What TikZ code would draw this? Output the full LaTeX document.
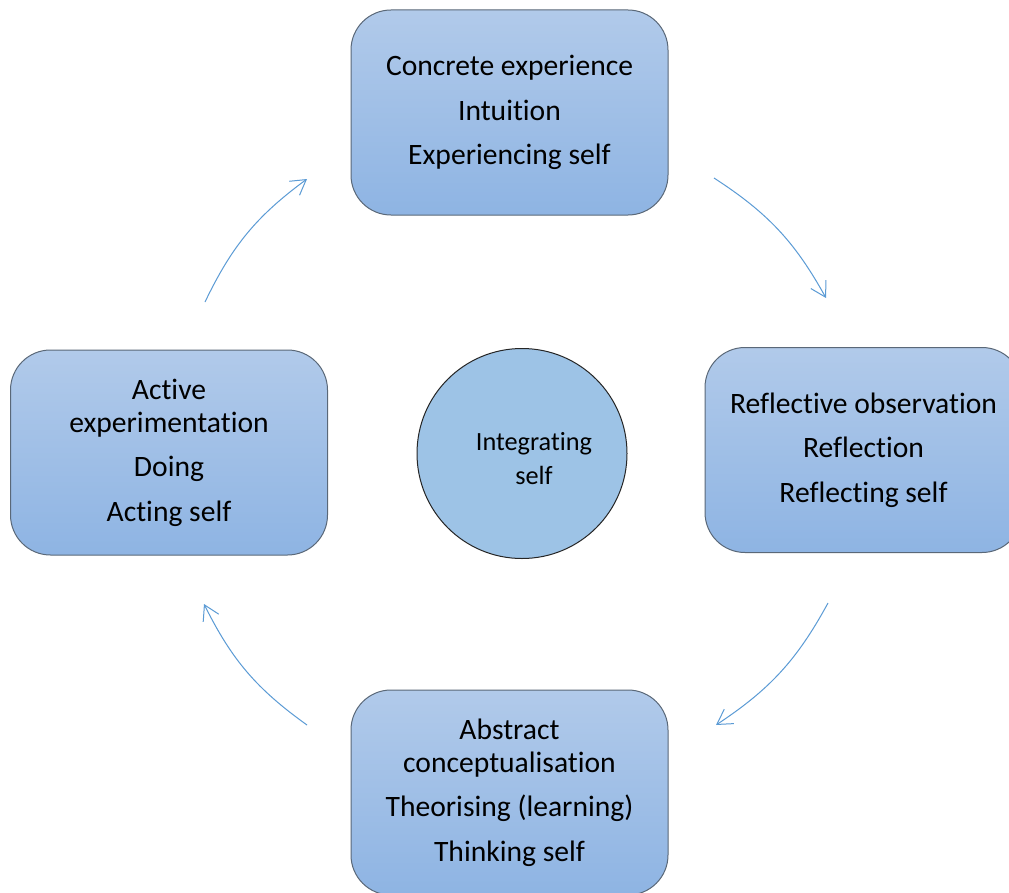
\documentclass[tikz,border=0pt]{standalone}
\usepackage{fontspec}
\setmainfont{Carlito}[Ligatures=NoCommon]
\usetikzlibrary{arrows.meta}
\definecolor{boxtop}{RGB}{177,202,234}
\definecolor{boxbot}{RGB}{142,180,227}
\definecolor{boxline}{RGB}{90,104,120}
\definecolor{circfill}{RGB}{157,195,230}
\definecolor{arrowblue}{RGB}{91,155,213}
\begin{document}
\begin{tikzpicture}[x=0.75pt,y=-0.75pt,
  stagebox/.style={rectangle, rounded corners=30pt, draw=boxline, line width=0.75pt,
    top color=boxtop, bottom color=boxbot, minimum width=237.75pt, minimum height=153.75pt,
    align=center, font=\fontsize{22.2}{24.75}\selectfont, inner sep=0pt},
  cyclearrow/.style={draw=arrowblue, line width=0.75pt,
    -{Straight Barb[length=11pt,width=13pt]}},
]
\useasboundingbox (0,0) rectangle (1009,892);
\clip (0,0) rectangle (1009,892);
\fill[white] (0,0) rectangle (1009,892);

\node[stagebox] (ce) at (509.5,112.5) {Concrete experience\\[8.6pt]Intuition\\[8.6pt]Experiencing self};
\node[stagebox] (ro) at (863.5,450) {Reflective observation\\[8.6pt]Reflection\\[8.6pt]Reflecting self};
\node[stagebox] (ac) at (509.5,792.5) {Abstract\\conceptualisation\\[8.6pt]Theorising (learning)\\[8.6pt]Thinking self};
\node[stagebox] (ae) at (169,452.5) {Active\\experimentation\\[8.6pt]Doing\\[8.6pt]Acting self};

\node[circle, draw=black!85, line width=0.75pt, fill=circfill, minimum size=157.5pt, inner sep=0pt] (is) at (522,453.5) {};
\node[font=\fontsize{19.7}{25.5}\selectfont, align=center, inner sep=0pt] (istext) at (534,459) {Integrating\\self};

\coordinate (a1s) at (714,178);
\coordinate (a1e) at (826,298);
\coordinate (a2s) at (828,603);
\coordinate (a2e) at (716,725);
\coordinate (a3s) at (307,725);
\coordinate (a3e) at (204,604);
\coordinate (a4s) at (205,302);
\coordinate (a4e) at (307,179);

\draw[cyclearrow] (a1s) to[bend left=14] (a1e);
\draw[cyclearrow] (a2s) to[bend left=14] (a2e);
\draw[cyclearrow] (a3s) to[bend left=14] (a3e);
\draw[cyclearrow] (a4s) to[bend left=14] (a4e);
\end{tikzpicture}
\end{document}
